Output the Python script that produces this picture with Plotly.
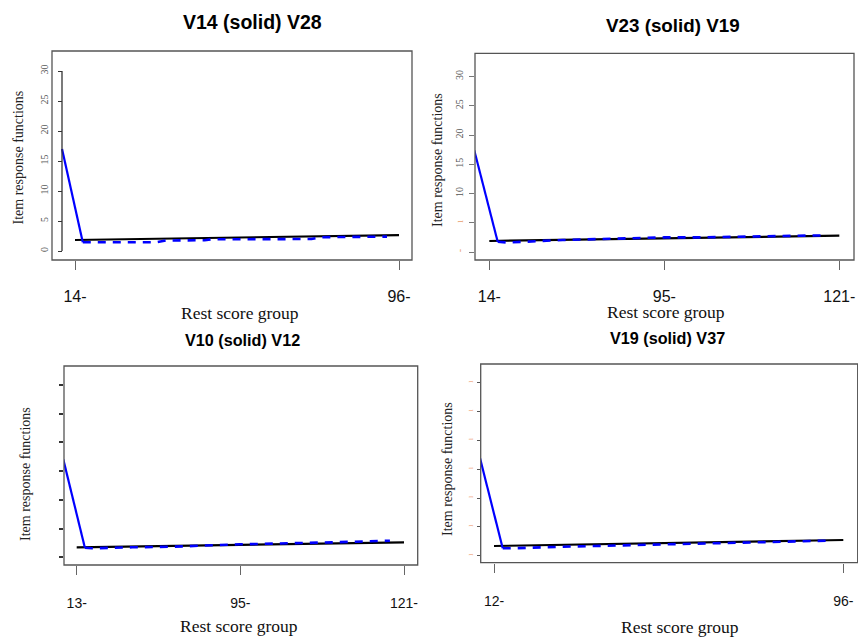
import plotly.graph_objects as go

W, H = 858, 637

# ---------------- data ----------------
titles = ["V14 (solid) V28", "V23 (solid) V19", "V10 (solid) V12", "V19 (solid) V37"]
x_title = "Rest score group"
y_title = "Item response functions"

# x = position along the rest-score axis (0 = first labelled group, 1 = last labelled group)
tick_pos_1 = [0, 1]
tick_lab_1 = ["14-", "96-"]
tick_pos_2 = [0, 0.5, 1]
tick_lab_2 = ["14-", "95-", "121-"]
tick_pos_3 = [0, 0.5, 1]
tick_lab_3 = ["13-", "95-", "121-"]
tick_pos_4 = [0, 1]
tick_lab_4 = ["12-", "96-"]

y_tick_vals = [0, 5, 10, 15, 20, 25, 30]
y_tick_text = ["0", "5", "10", "15", "20", "25", "30"]

# panel 1
p1_blue_solid_x = [-0.04, 0.024]
p1_blue_solid_y = [17.0, 1.45]
p1_blue_dash_x = [0.024, 0.25, 0.28, 0.40, 0.42, 0.73, 0.76, 0.963]
p1_blue_dash_y = [1.45, 1.45, 1.75, 1.8, 1.95, 2.0, 2.3, 2.4]
p1_black_x = [0, 1]
p1_black_y = [1.83, 2.66]

# panel 2
p2_blue_solid_x = [-0.043, 0.024]
p2_blue_solid_y = [17.4, 1.76]
p2_blue_dash_x = [0.024, 0.05, 0.21, 0.5, 0.6, 0.78, 0.964]
p2_blue_dash_y = [1.76, 1.62, 2.05, 2.5, 2.5, 2.62, 2.85]
p2_black_x = [0, 1]
p2_black_y = [1.88, 2.8]

# panel 3
p3_blue_solid_x = [-0.041, 0.025]
p3_blue_solid_y = [17.06, 1.67]
p3_blue_dash_x = [0.025, 0.046, 0.17, 0.295, 0.499, 0.68, 0.78, 0.957]
p3_blue_dash_y = [1.67, 1.57, 1.74, 1.85, 2.26, 2.43, 2.6, 2.89]
p3_black_x = [0, 1]
p3_black_y = [1.74, 2.61]

# panel 4
p4_blue_solid_x = [-0.04, 0.025]
p4_blue_solid_y = [16.9, 1.28]
p4_blue_dash_x = [0.025, 0.046, 0.198, 0.485, 0.676, 0.952]
p4_blue_dash_y = [1.28, 1.28, 1.56, 1.97, 2.25, 2.6]
p4_black_x = [0, 1]
p4_black_y = [1.68, 2.72]

# ---------------- layout geometry (pixels) ----------------
# frame (L, T, R, B), first/last x tick px, px of y=0 and y=30
geo = [
    dict(frame=(52, 51, 412, 260), t0=75, t1=399, y0=251, y30=71),
    dict(frame=(475, 53.3, 854, 260), t0=489.3, t1=839.3, y0=252, y30=76.5),
    dict(frame=(64, 366, 417.7, 565), t0=76.7, t1=404, y0=557.3, y30=385),
    dict(frame=(480.7, 364, 857.7, 562.7), t0=494, t1=843.3, y0=555.7, y30=382.7),
]


def fx(px):
    return px / W


def fy(py):
    return 1 - py / H


series = [
    (p1_blue_solid_x, p1_blue_solid_y, p1_blue_dash_x, p1_blue_dash_y, p1_black_x, p1_black_y),
    (p2_blue_solid_x, p2_blue_solid_y, p2_blue_dash_x, p2_blue_dash_y, p2_black_x, p2_black_y),
    (p3_blue_solid_x, p3_blue_solid_y, p3_blue_dash_x, p3_blue_dash_y, p3_black_x, p3_black_y),
    (p4_blue_solid_x, p4_blue_solid_y, p4_blue_dash_x, p4_blue_dash_y, p4_black_x, p4_black_y),
]
ticks = [(tick_pos_1, tick_lab_1), (tick_pos_2, tick_lab_2), (tick_pos_3, tick_lab_3), (tick_pos_4, tick_lab_4)]

fig = go.Figure()
layout = dict(
    width=W, height=H, autosize=False,
    margin=dict(l=0, r=0, t=0, b=0),
    paper_bgcolor="white", plot_bgcolor="white",
    showlegend=False,
)
shapes = []
annotations = []

BLUE = "#0000FF"
FRAME = "#555555"

for i in range(4):
    n = "" if i == 0 else str(i + 1)
    g = geo[i]
    L, T, R, B = g["frame"]
    ppu = (g["y0"] - g["y30"]) / 30.0
    xr = [(L - g["t0"]) / (g["t1"] - g["t0"]), (R - g["t0"]) / (g["t1"] - g["t0"])]
    yr = [(g["y0"] - B) / ppu, (g["y0"] - T) / ppu]
    bsx, bsy, bdx, bdy, kx, ky = series[i]
    xa, ya = "x" + n, "y" + n

    fig.add_trace(go.Scatter(x=kx, y=ky, mode="lines", xaxis=xa, yaxis=ya,
                             line=dict(color="black", width=2.2)))
    fig.add_trace(go.Scatter(x=bdx, y=bdy, mode="lines", xaxis=xa, yaxis=ya,
                             line=dict(color=BLUE, width=2.6, dash="8px,7px")))
    fig.add_trace(go.Scatter(x=bsx, y=bsy, mode="lines", xaxis=xa, yaxis=ya,
                             line=dict(color=BLUE, width=2.2), cliponaxis=True))

    tp, tl = ticks[i]
    big = i < 2
    layout["xaxis" + n] = dict(
        domain=[fx(L), fx(R)], range=xr, anchor=ya,
        showgrid=False, zeroline=False, showline=False,
        ticks="outside", ticklen=9, tickwidth=1.3, tickcolor="#666666",
        tickvals=tp, ticktext=tl, ticklabelstandoff=13 if big else 16,
        tickfont=dict(family="Liberation Sans, Arial", size=16 if big else 14, color="#111111"),
        fixedrange=True,
    )

    ydict = dict(
        domain=[fy(B), fy(T)], range=yr,
        showgrid=False, zeroline=False, showline=False,
        ticks="outside", tickwidth=1.3, tickcolor="#333333",
        tickvals=y_tick_vals, tickangle=-90,
        tickfont=dict(family="Liberation Serif, Times New Roman", size=10, color="#555555"),
        fixedrange=True,
    )
    if i == 0:
        ydict.update(anchor="free", position=fx(62), ticklen=4, ticktext=y_tick_text,
                     ticklabelstandoff=6)
        shapes.append(dict(type="line", xref="paper", yref="y", x0=fx(62), x1=fx(62),
                           y0=0, y1=30, line=dict(color="#333333", width=1.3)))
    elif i == 1:
        faint = '<span style="color:#e8a070">{}</span>'
        ydict.update(anchor=xa, ticklen=5,
                     ticktext=[faint.format("-"), faint.format("ı")] + y_tick_text[2:],
                     ticklabelstandoff=2, tickcolor="#777777")
    elif i == 2:
        ydict.update(anchor=xa, ticklen=4, showticklabels=False, tickwidth=1.6)
    else:
        faint = '<span style="color:#f0b090">{}</span>'
        ydict.update(anchor=xa, ticklen=3, tickcolor="#555555",
                     ticktext=[faint.format("ı") for _ in y_tick_vals],
                     tickfont=dict(family="Liberation Serif", size=8, color="#f0b090"),
                     ticklabelstandoff=1)
    layout["yaxis" + n] = ydict

    # frame box
    shapes.append(dict(type="rect", xref=xa + " domain", yref=ya + " domain",
                       x0=0, x1=1, y0=0, y1=1, line=dict(color=FRAME, width=1.3),
                       fillcolor="rgba(0,0,0,0)", layer="above"))

# titles
title_pos = [(252, 22, 19.5), (672.5, 25, 18.8), (242.5, 340, 16.2), (667.7, 338, 16.2)]
for t, (cx, cy, sz) in zip(titles, title_pos):
    annotations.append(dict(text="<b>" + t + "</b>", xref="paper", yref="paper",
                            x=fx(cx), y=fy(cy), xanchor="center", yanchor="middle",
                            showarrow=False,
                            font=dict(family="Liberation Sans, Arial", size=sz, color="black")))

# x axis titles
xt_pos = [(240, 313), (666.3, 312), (239, 626), (679.7, 627)]
for cx, cy in xt_pos:
    annotations.append(dict(text=x_title, xref="paper", yref="paper",
                            x=fx(cx), y=fy(cy), xanchor="center", yanchor="middle",
                            showarrow=False,
                            font=dict(family="Liberation Serif, Times New Roman", size=17.5, color="#111111")))

# y axis titles
yt_pos = [(18, 157.5), (437, 160), (25, 474), (447, 469)]
for cx, cy in yt_pos:
    annotations.append(dict(text=y_title, xref="paper", yref="paper", textangle=-90,
                            x=fx(cx), y=fy(cy), xanchor="center", yanchor="middle",
                            showarrow=False,
                            font=dict(family="Liberation Serif, Times New Roman", size=14, color="#222222")))

layout["shapes"] = shapes
layout["annotations"] = annotations
fig.update_layout(**layout)

fig.write_html(
    "out.html",
    config=dict(displayModeBar=False),
    post_script="document.body.style.margin='0';document.body.style.overflow='hidden';",
)
